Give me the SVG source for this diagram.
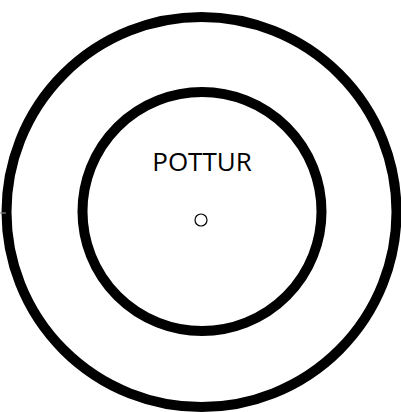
<svg xmlns="http://www.w3.org/2000/svg" width="401" height="412" viewBox="0 0 401 412">
<style>
.ring{fill:none;stroke:#000;stroke-width:10}
.lbl{font-family:"Open Sans","Noto Sans",sans-serif;font-size:26px;fill:#000;text-anchor:middle}
</style>
<rect width="401" height="412" fill="#fff"/>
<g id="outer"><circle class="ring" cx="201.5" cy="212" r="195"/></g>
<g id="inner"><circle class="ring" cx="202" cy="211.5" r="119.5"/></g>
<g id="label"><text class="lbl" x="202" y="171">POTTUR</text></g>
<g id="center"><circle cx="201" cy="220" r="6" fill="#fff" stroke="#000" stroke-width="1.2"/></g>
<g id="connectors"><line x1="0" y1="213" x2="6" y2="213" stroke="#888" stroke-width="1.2"/></g>
</svg>
